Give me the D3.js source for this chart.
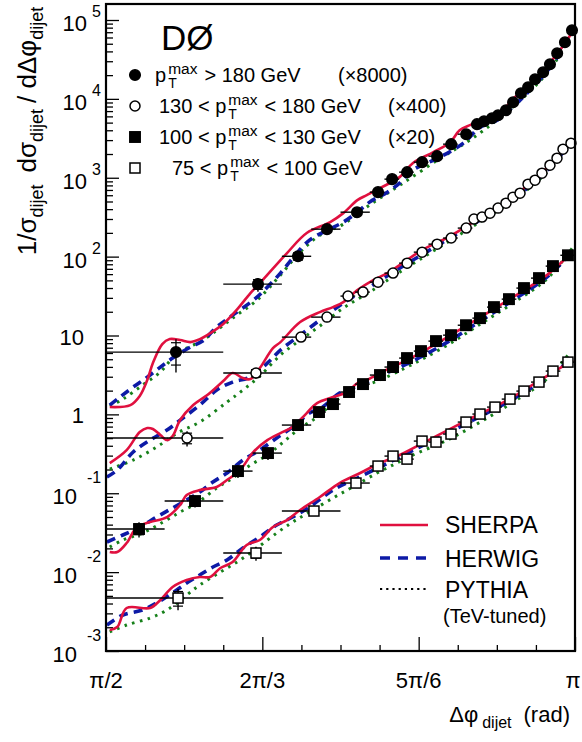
<!DOCTYPE html>
<html><head><meta charset="utf-8">
<script src="https://cdn.jsdelivr.net/npm/d3@7"></script>
<style>
body{margin:0;background:#fff}
svg{display:block;font-family:"Liberation Sans",Arial,Helvetica,sans-serif}
</style>
</head><body>
<svg id="c" width="582" height="742"></svg>
<script>
const PI = Math.PI;
// ---------- DATA (Δφ in units of π; values as plotted, already multiplied by the legend factors) ----------
const scaleFactors = ["(×8000)", "(×400)", "(×20)", ""];

const s1Phi = [0.5746,0.662,0.7047,0.7356,0.7676,0.790,0.805,0.821,0.837,0.853,0.868,0.884,0.8955,0.903,0.9115,0.918,0.9264,0.934,0.9424,0.950,0.9574,0.966,0.9733,0.981,0.9893,0.9968];
const s1Val = [6.16,44.8,101,223,366,657,960,1177,1576,1878,2666,3568,4778,5214,5690,6213,7189,9079,11807,14064,17762,21792,27519,37950,52300,74220];
const s1Err = [0.45,0.2,0.15,0.1,0.08,0.06,0.05,0.04,0.04,0.04,0.04,0.04,0.04,0.04,0.04,0.04,0.04,0.04,0.04,0.04,0.04,0.04,0.04,0.04,0.04,0.04];
const s1Edges = [0.5,0.625,0.6875,0.71875,0.75,0.78125,0.796875,0.8125,0.828125,0.84375,0.859375,0.875,0.890625,0.8984375,0.90625,0.9140625,0.921875,0.9296875,0.9375,0.9453125,0.953125,0.9609375,0.96875,0.9765625,0.984375,0.9921875,1];

const s2Phi = [0.5864,0.6599,0.7079,0.7356,0.758,0.774,0.790,0.806,0.821,0.837,0.853,0.868,0.884,0.8923,0.9009,0.9094,0.918,0.9264,0.9339,0.9414,0.9499,0.9574,0.9648,0.9733,0.9808,0.9872,0.9957];
const s2Val = [0.501,3.34,9.54,17.1,31.6,35.5,47.5,61.8,82.7,114,144,172,230,299,317,356,412,476,568,638,829,932,1143,1444,1772,2303,2744];
const s2Err = [0.22,0.15,0.1,0.08,0.06,0.05,0.05,0.04,0.04,0.04,0.04,0.04,0.04,0.04,0.04,0.04,0.04,0.04,0.04,0.04,0.04,0.04,0.04,0.04,0.04,0.04,0.04];
const s2Edges = [0.5,0.625,0.6875,0.71875,0.75,0.765625,0.78125,0.796875,0.8125,0.828125,0.84375,0.859375,0.875,0.890625,0.8984375,0.90625,0.9140625,0.921875,0.9296875,0.9375,0.9453125,0.953125,0.9609375,0.96875,0.9765625,0.984375,0.9921875,1];

const s3Phi = [0.5352,0.5949,0.6407,0.6727,0.7047,0.7271,0.742,0.7591,0.774,0.7921,0.806,0.8209,0.8358,0.8518,0.8678,0.8838,0.8987,0.9136,0.9296,0.9456,0.9616,0.9765,0.9925];
const s3Val = [0.0352,0.0796,0.191,0.323,0.732,1.07,1.35,1.92,2.42,3.15,3.98,5.17,6.34,8.49,10.1,13.5,16.6,22.9,28.9,39.9,53.4,75.8,104];
const s3Err = [0.22,0.17,0.18,0.18,0.08,0.06,0.05,0.05,0.04,0.04,0.04,0.04,0.04,0.04,0.04,0.04,0.04,0.04,0.04,0.04,0.04,0.04,0.04];
const s3Edges = [0.5,0.5625,0.625,0.65625,0.6875,0.71875,0.734375,0.75,0.765625,0.78125,0.796875,0.8125,0.828125,0.84375,0.859375,0.875,0.890625,0.90625,0.921875,0.9375,0.953125,0.96875,0.984375,1];

const s4Phi = [0.5768,0.6599,0.7217,0.7665,0.790,0.806,0.8209,0.8369,0.8518,0.8678,0.8838,0.8987,0.9147,0.9307,0.9456,0.9616,0.9765,0.9925];
const s4Val = [0.00469,0.01747,0.0595,0.1347,0.2212,0.296,0.271,0.4586,0.4455,0.5629,0.7989,1.009,1.237,1.562,1.973,2.567,3.538,4.60];
const s4Err = [0.3,0.2,0.08,0.06,0.05,0.05,0.05,0.04,0.04,0.04,0.04,0.04,0.04,0.04,0.04,0.04,0.04,0.04];
const s4Edges = [0.5,0.625,0.6875,0.75,0.78125,0.796875,0.8125,0.828125,0.84375,0.859375,0.875,0.890625,0.90625,0.921875,0.9375,0.953125,0.96875,0.984375,1];

// MC predictions: [Δφ/π, value]
const sherpa1 = [[0.504,1.24],[0.526,1.31],[0.536,1.71],[0.544,2.72],[0.550,4.47],[0.560,7.78],[0.568,9.01],[0.579,8.75],[0.590,8.25],[0.600,9.01],[0.611,10.7],[0.625,14.0],[0.640,21.6],[0.654,34.5],[0.667,50.4],[0.693,111],[0.714,199],[0.739,274],[0.753,356],[0.768,520],[0.778,602],[0.792,738],[0.813,1018],[0.827,1531],[0.849,2111],[0.867,2827],[0.877,4000],[0.888,4642],[0.909,5864],[0.923,7193],[0.934,10000],[0.949,14070],[0.963,19970],[0.973,28350],[0.984,41430],[0.997,70060]];
const herwig1 = [[0.504,1.31],[0.515,1.66],[0.529,2.22],[0.544,2.97],[0.558,3.98],[0.571,5.17],[0.590,7.13],[0.603,8.50],[0.618,12.8],[0.635,18.1],[0.661,30.7],[0.686,61.8],[0.699,95.7],[0.717,162],[0.736,217],[0.753,274],[0.768,367],[0.781,491],[0.800,657],[0.813,854],[0.827,1249],[0.856,1825],[0.881,2745],[0.899,4380],[0.917,5373],[0.938,8822],[0.959,15820],[0.977,28350],[0.997,70060]];
const pythia1 = [[0.504,1.27],[0.518,1.56],[0.539,2.35],[0.558,3.44],[0.571,5.17],[0.586,6.92],[0.600,8.25],[0.614,10.7],[0.635,16.6],[0.661,28.1],[0.686,58.3],[0.707,114],[0.728,187],[0.753,258],[0.781,450],[0.813,800],[0.856,1750],[0.888,3000],[0.920,5800],[0.952,12500],[0.977,27000],[0.997,76000]];

const sherpa2 = [[0.504,0.2415],[0.522,0.353],[0.536,0.597],[0.544,0.671],[0.550,0.652],[0.558,0.547],[0.565,0.4725],[0.571,0.531],[0.579,0.847],[0.593,1.312],[0.608,1.757],[0.625,2.644],[0.635,3.34],[0.646,2.885],[0.654,2.803],[0.664,3.864],[0.678,6.92],[0.686,8.25],[0.707,14.8],[0.728,19.8],[0.742,22.9],[0.753,26.5],[0.768,37.6],[0.785,50.4],[0.800,61.8],[0.813,78.1],[0.837,121],[0.867,182],[0.888,258],[0.909,367],[0.931,536],[0.952,854],[0.973,1445],[0.987,2238],[0.997,2911]];
const herwig2 = [[0.501,0.1605],[0.512,0.1969],[0.529,0.3331],[0.547,0.4725],[0.565,0.6326],[0.582,0.898],[0.600,1.312],[0.618,2.033],[0.635,2.568],[0.654,2.971],[0.672,4.47],[0.686,6.53],[0.707,10.12],[0.728,15.7],[0.753,25.8],[0.781,41.1],[0.813,71.5],[0.845,121],[0.877,204],[0.909,346],[0.941,620],[0.973,1324],[0.997,2996]];
const pythia2 = [[0.504,0.2027],[0.529,0.2636],[0.554,0.3852],[0.576,0.5797],[0.600,0.799],[0.629,1.432],[0.646,2.033],[0.664,3.06],[0.686,5.65],[0.707,8.75],[0.728,13.2],[0.753,22.3],[0.781,35.5],[0.813,63.6],[0.845,110],[0.877,190],[0.909,330],[0.941,590],[0.973,1290],[0.997,3368]];

const sherpa3 = [[0.504,0.01799],[0.512,0.01799],[0.522,0.02339],[0.533,0.03731],[0.547,0.04317],[0.565,0.04994],[0.579,0.0709],[0.586,0.0949],[0.600,0.1098],[0.618,0.1199],[0.629,0.1471],[0.643,0.1969],[0.657,0.3331],[0.672,0.4725],[0.686,0.5797],[0.699,0.6905],[0.714,1.039],[0.725,1.391],[0.742,1.657],[0.757,1.918],[0.768,2.494],[0.778,2.722],[0.792,3.34],[0.827,5.32],[0.864,9.55],[0.899,17.1],[0.934,30.7],[0.970,58.3],[0.997,114]];
const herwig3 = [[0.501,0.02408],[0.518,0.02955],[0.536,0.03731],[0.554,0.04994],[0.571,0.065],[0.586,0.082],[0.600,0.1036],[0.614,0.1387],[0.629,0.1805],[0.646,0.2636],[0.664,0.353],[0.682,0.501],[0.699,0.6905],[0.717,1.039],[0.731,1.238],[0.749,1.863],[0.771,2.352],[0.792,3.06],[0.827,4.74],[0.864,8.25],[0.899,15.2],[0.934,28.1],[0.970,55.0],[0.997,114]];
const pythia3 = [[0.504,0.02081],[0.518,0.02553],[0.539,0.03131],[0.561,0.04317],[0.579,0.0578],[0.597,0.0752],[0.618,0.1164],[0.635,0.1559],[0.654,0.2279],[0.672,0.305],[0.689,0.4457],[0.707,0.6707],[0.725,0.9245],[0.742,1.391],[0.763,2.033],[0.792,2.722],[0.827,4.34],[0.864,7.56],[0.899,13.95],[0.934,25.8],[0.970,51.9],[0.997,128]];

const sherpa4 = [[0.504,0.001847],[0.512,0.002016],[0.522,0.00351],[0.547,0.00351],[0.558,0.004432],[0.571,0.006478],[0.586,0.007946],[0.600,0.008672],[0.611,0.008672],[0.622,0.01128],[0.635,0.01343],[0.650,0.02207],[0.664,0.02553],[0.678,0.03731],[0.693,0.04575],[0.707,0.0613],[0.728,0.0895],[0.749,0.1348],[0.771,0.1805],[0.792,0.2415],[0.813,0.305],[0.838,0.4329],[0.881,0.799],[0.928,1.518],[0.963,2.722],[0.998,4.88]];
const herwig4 = [[0.501,0.002136],[0.518,0.002861],[0.539,0.003311],[0.554,0.004061],[0.571,0.005436],[0.586,0.007279],[0.600,0.009192],[0.614,0.01161],[0.629,0.01424],[0.646,0.02021],[0.664,0.02786],[0.682,0.03956],[0.699,0.04994],[0.717,0.0669],[0.742,0.1098],[0.768,0.1559],[0.792,0.2149],[0.813,0.2877],[0.845,0.4457],[0.881,0.7321],[0.928,1.432],[0.963,2.568],[0.998,5.17]];
const pythia4 = [[0.504,0.001742],[0.522,0.002136],[0.547,0.002621],[0.565,0.003311],[0.586,0.005129],[0.600,0.006867],[0.622,0.01003],[0.643,0.01424],[0.661,0.02021],[0.682,0.03131],[0.699,0.04317],[0.717,0.0578],[0.742,0.087],[0.763,0.1199],[0.789,0.1805],[0.810,0.2415],[0.827,0.305],[0.864,0.4725],[0.899,0.799],[0.934,1.432],[0.970,2.803],[0.995,6.16]];

// axis labels
const xTickFrac = [1/2, 2/3, 5/6, 1];
const xTickText = ["π/2", "2π/3", "5π/6", "π"];
const yTickExp = [-3,-2,-1,0,1,2,3,4,5];
const legendRows = [
  {pre:"p", post:"> 180 GeV", x:155},
  {pre:"130 < p", post:"< 180 GeV", x:159},
  {pre:"100 < p", post:"< 130 GeV", x:159},
  {pre:"75 < p", post:"< 100 GeV", x:172}
];
const mcNames = ["SHERPA", "HERWIG", "PYTHIA"];

// ---------- LAYOUT ----------
const svg = d3.select("#c");
const L = 106, R = 575, T = 4, B = 651;
const xS = d3.scaleLinear().domain([PI/2, PI]).range([L, R]);
const yS = d3.scaleLog().domain([1e-3, 1e5]).range([B, 20]);
const X = f => xS(f*PI);

const RED = "#e0103f", BLUE = "#0d1aa6", GREEN = "#16801a";

svg.append("defs").append("clipPath").attr("id","clip")
  .append("rect").attr("x",L).attr("y",T).attr("width",R-L).attr("height",B-T);

// axes ticks
const majorY = yTickExp.map(e => Math.pow(10,e));
const minorY = [];
for (let e=-3;e<5;e++) for (let m=2;m<10;m++) minorY.push(m*Math.pow(10,e));
const ticksY = minorY.slice();
[2,3,4,5,6,7,8,9].forEach(m=>{const v=m*1e5; if (yS(v)>T+1) ticksY.push(v);});

const gAx = svg.append("g");
gAx.append("g").attr("transform",`translate(${L},0)`)
  .call(d3.axisLeft(yS).tickValues(majorY).tickSize(-13).tickFormat(""))
  .call(g=>{g.select(".domain").remove(); g.selectAll("line").attr("stroke","#000").attr("stroke-width",1.3);});
gAx.append("g").attr("transform",`translate(${L},0)`)
  .call(d3.axisLeft(yS).tickValues(ticksY).tickSize(-7).tickFormat(""))
  .call(g=>{g.select(".domain").remove(); g.selectAll("line").attr("stroke","#000").attr("stroke-width",1.3);});

const minorX = d3.range(13, 24).map(k => k/24).filter(f => ![16/24, 20/24].includes(f));
gAx.append("g").attr("transform",`translate(0,${B})`)
  .call(d3.axisBottom(xS).tickValues(xTickFrac.map(f=>f*PI)).tickSize(-14).tickFormat(""))
  .call(g=>{g.select(".domain").remove(); g.selectAll("line").attr("stroke","#000").attr("stroke-width",1.3);});
gAx.append("g").attr("transform",`translate(0,${B})`)
  .call(d3.axisBottom(xS).tickValues(minorX.map(f=>f*PI)).tickSize(-6).tickFormat(""))
  .call(g=>{g.select(".domain").remove(); g.selectAll("line").attr("stroke","#000").attr("stroke-width",1.3);});

// tick labels
yTickExp.forEach(e=>{
  const ty = yS(Math.pow(10,e));
  if (e===0 || e===1) {
    svg.append("text").attr("x",84).attr("y",ty+9).attr("text-anchor","end")
      .attr("font-size",22).text(e===0?"1":"10");
  } else if (e>1) {
    svg.append("text").attr("x",87).attr("y",ty+11).attr("text-anchor","end").attr("font-size",22).text("10");
    svg.append("text").attr("x",92).attr("y",ty-3).attr("font-size",16).text(String(e));
  } else {
    svg.append("text").attr("x",77).attr("y",ty+11).attr("text-anchor","end").attr("font-size",22).text("10");
    svg.append("text").attr("x",87).attr("y",ty-10).attr("font-size",16).text(String(e));
  }
});
xTickFrac.forEach((f,i)=>{
  svg.append("text").attr("x", i===3 ? X(f)-2 : X(f)).attr("y",688).attr("text-anchor","middle")
    .attr("font-size",22).text(xTickText[i]);
});

// axis titles
const xt = svg.append("text").attr("x",570).attr("y",722).attr("text-anchor","end").attr("font-size",22);
xt.append("tspan").text("Δφ");
xt.append("tspan").attr("font-size",16).attr("dx",4).attr("dy",6).text("dijet");
xt.append("tspan").attr("dy",-6).attr("dx",12).text("(rad)");

const yt = svg.append("text").attr("transform","translate(36,131) rotate(-90)")
  .attr("text-anchor","middle").attr("font-size",26);
yt.append("tspan").text("1/σ");
yt.append("tspan").attr("font-size",18).attr("dy",7).text("dijet");
yt.append("tspan").attr("dy",-7).attr("dx",12).text("dσ");
yt.append("tspan").attr("font-size",18).attr("dy",7).text("dijet");
yt.append("tspan").attr("dy",-7).attr("dx",6).text("/ dΔφ");
yt.append("tspan").attr("font-size",18).attr("dy",7).text("dijet");

// ---------- MC CURVES ----------
const series = [
  {phi:s1Phi, val:s1Val, err:s1Err, edges:s1Edges, marker:"circleFilled", mc:[sherpa1,herwig1,pythia1]},
  {phi:s2Phi, val:s2Val, err:s2Err, edges:s2Edges, marker:"circleOpen",   mc:[sherpa2,herwig2,pythia2]},
  {phi:s3Phi, val:s3Val, err:s3Err, edges:s3Edges, marker:"squareFilled", mc:[sherpa3,herwig3,pythia3]},
  {phi:s4Phi, val:s4Val, err:s4Err, edges:s4Edges, marker:"squareOpen",   mc:[sherpa4,herwig4,pythia4]}
];
const line = d3.line().x(d=>X(d[0])).y(d=>yS(d[1])).curve(d3.curveCatmullRom.alpha(0.5));
const mcStyle = [
  {stroke:RED, w:2.6, dash:null},
  {stroke:BLUE, w:3.6, dash:"9,6"},
  {stroke:GREEN, w:3, dash:"2.6,5.4"}
];
const gC = svg.append("g").attr("clip-path","url(#clip)");
[2,1,0].forEach(k=>{
  series.forEach(s=>{
    const st = mcStyle[k];
    gC.append("path").attr("d", line(s.mc[k])).attr("fill","none")
      .attr("stroke",st.stroke).attr("stroke-width",st.w)
      .attr("stroke-dasharray",st.dash).attr("stroke-linejoin","round");
  });
});

// ---------- DATA POINTS ----------
function marker(g, type, cx, cy){
  if (type.startsWith("circle")) {
    g.append("circle").attr("cx",cx).attr("cy",cy).attr("r",type==="circleFilled"?5.3:5)
      .attr("fill",type==="circleFilled"?"#000":"#fff").attr("stroke","#000").attr("stroke-width",1.5);
  } else {
    const h = type==="squareFilled"?5.2:5;
    g.append("rect").attr("x",cx-h).attr("y",cy-h).attr("width",2*h).attr("height",2*h)
      .attr("fill",type==="squareFilled"?"#000":"#fff").attr("stroke","#000").attr("stroke-width",1.5);
  }
}
const gD = svg.append("g");
series.forEach(s=>{
  s.phi.forEach((f,i)=>{
    const v = s.val[i], e = s.err[i];
    const cx = X(f), cy = yS(v);
    gD.append("line").attr("x1",X(s.edges[i])).attr("x2",X(s.edges[i+1])).attr("y1",cy).attr("y2",cy)
      .attr("stroke","#000").attr("stroke-width",1.4);
    gD.append("line").attr("x1",cx).attr("x2",cx).attr("y1",yS(v*(1+e))).attr("y2",yS(v*(1-e)))
      .attr("stroke","#000").attr("stroke-width",1.4);
    [v*(1+0.7*e), v*(1-0.7*e)].forEach(t=>{
      gD.append("line").attr("x1",cx-5).attr("x2",cx+5).attr("y1",yS(t)).attr("y2",yS(t))
        .attr("stroke","#000").attr("stroke-width",1.2);
    });
  });
  s.phi.forEach((f,i)=> marker(gD, s.marker, X(f), yS(s.val[i])));
});

// frame
svg.append("rect").attr("x",L).attr("y",T).attr("width",R-L).attr("height",B-T)
  .attr("fill","none").attr("stroke","#000").attr("stroke-width",2.2);

// ---------- LEGENDS ----------
svg.append("text").attr("x",161).attr("y",50).attr("font-size",35).text("DØ");

legendRows.forEach((r,i)=>{
  const by = 82 + i*31;
  marker(svg, series[i].marker, 135, by-7);
  const t = svg.append("text").attr("x",r.x).attr("y",by).attr("font-size",20);
  const tPre = t.append("tspan").text(r.pre);
  const w1 = tPre.node().getComputedTextLength();
  const sx = r.x + w1 + 2;
  t.append("tspan").attr("x",sx).attr("dy",6).attr("font-size",14).text("T");
  const tm = t.append("tspan").attr("x",sx).attr("dy",-14).attr("font-size",15.5).text("max");
  const wm = tm.node().getComputedTextLength();
  t.append("tspan").attr("x",sx+wm+7).attr("dy",8).text(r.post);
  if (scaleFactors[i]) {
    svg.append("text").attr("x", i===0?338:388).attr("y",by).attr("font-size",20).text(scaleFactors[i]);
  }
});

const lg = [{y:525,ty:533},{y:558,ty:567},{y:589,ty:598}];
lg.forEach((l,k)=>{
  const st = mcStyle[k];
  svg.append("line").attr("x1",380).attr("x2",428).attr("y1",l.y).attr("y2",l.y)
    .attr("stroke", k===2?"#000":st.stroke).attr("stroke-width", k===2?2.2:st.w)
    .attr("stroke-dasharray", k===1?"10,8":(k===2?"2.2,4":null));
  svg.append("text").attr("x",445).attr("y",l.ty).attr("font-size",23).text(mcNames[k]);
});
svg.append("text").attr("x",443).attr("y",623).attr("font-size",20).text("(TeV-tuned)");
</script>
</body></html>
